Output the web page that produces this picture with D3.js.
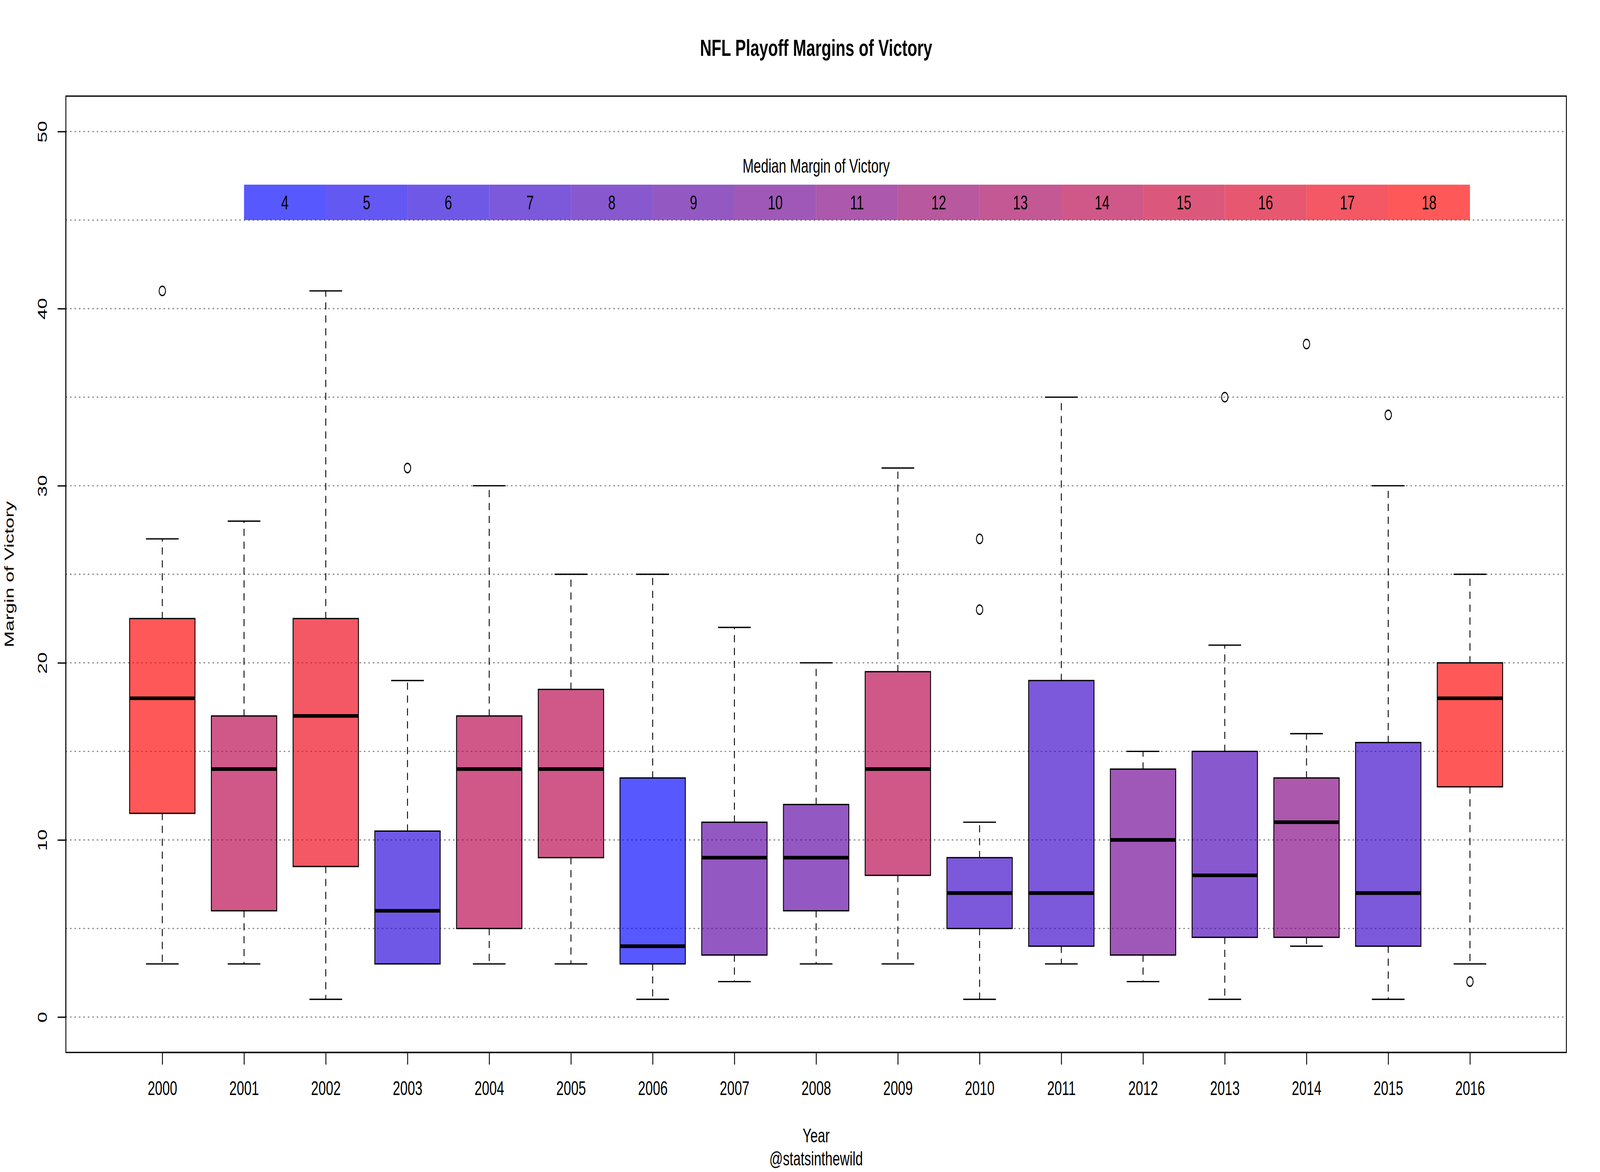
<!DOCTYPE html>
<html>
<head>
<meta charset="utf-8">
<script src="https://cdn.jsdelivr.net/npm/d3@7"></script>
<style>
  html, body { margin: 0; padding: 0; background: #fff; overflow: hidden; }
  svg { display: block; font-family: "Liberation Sans", Arial, Helvetica, sans-serif; }
</style>
</head>
<body>
<svg id="chart" viewBox="0 0 6000 3000" preserveAspectRatio="none"></svg>
<script>
// ---- data ----
const years = ["2000","2001","2002","2003","2004","2005","2006","2007","2008","2009","2010","2011","2012","2013","2014","2015","2016"];
const lowerWhisker = [3, 3, 1, 3, 3, 3, 1, 2, 3, 3, 1, 3, 2, 1, 4, 1, 3];
const lowerHinge   = [11.5, 6, 8.5, 3, 5, 9, 3, 3.5, 6, 8, 5, 4, 3.5, 4.5, 4.5, 4, 13];
const medians      = [18, 14, 17, 6, 14, 14, 4, 9, 9, 14, 7, 7, 10, 8, 11, 7, 18];
const upperHinge   = [22.5, 17, 22.5, 10.5, 17, 18.5, 13.5, 11, 12, 19.5, 9, 19, 14, 15, 13.5, 15.5, 20];
const upperWhisker = [27, 28, 41, 19, 30, 25, 25, 22, 20, 31, 11, 35, 15, 21, 16, 30, 25];
const outliers     = [[41], [], [], [31], [], [], [], [], [], [], [27, 23], [], [], [35], [38], [34], [2]];
const legendLevels = [4, 5, 6, 7, 8, 9, 10, 11, 12, 13, 14, 15, 16, 17, 18];
const yTicks = [0, 10, 20, 30, 40, 50];
const yGrid = [0, 5, 10, 15, 20, 25, 30, 35, 40, 45, 50];

// ---- layout ----
const svg = d3.select("#chart")
  .attr("width", window.innerWidth || 6000).attr("height", window.innerHeight || 3000);
const plotL = 247, plotR = 5874, plotT = 246, plotB = 2694;
const LW = 3.3;
const x = d3.scaleLinear().domain([-0.18, 18.18]).range([plotL, plotR]);
const y = d3.scaleLinear().domain([-2, 52]).range([plotB, plotT]);
const colorRamp = d3.scaleLinear().domain([4, 18]).range([0, 1]);
const colorOf = m => d3.interpolateRgb("blue", "red")(colorRamp(m));
const FILL_OP = 0.655;
const pos = i => i + 1;

// gridlines
svg.append("g").selectAll("line").data(yGrid).join("line")
  .attr("x1", plotL).attr("x2", plotR)
  .attr("y1", d => y(d)).attr("y2", d => y(d))
  .attr("stroke", "#8f8f8f").attr("stroke-width", LW)
  .attr("stroke-dasharray", "3.4,13.3").attr("stroke-linecap", "round");

// legend
const lg = svg.append("g");
lg.selectAll("rect").data(legendLevels).join("rect")
  .attr("x", (d, i) => x(i + 2)).attr("width", (d, i) => x(i + 3) - x(i + 2))
  .attr("y", y(47)).attr("height", y(45) - y(47))
  .attr("fill", d => colorOf(d)).attr("fill-opacity", FILL_OP);
lg.selectAll("text").data(legendLevels).join("text")
  .attr("x", (d, i) => (x(i + 2) + x(i + 3)) / 2).attr("y", y(46))
  .attr("dy", "0.36em").attr("text-anchor", "middle")
  .attr("font-size", 50).text(d => d);
lg.append("text").attr("x", x(9)).attr("y", y(48)).attr("dy", "0.3em")
  .attr("text-anchor", "middle").attr("font-size", 50).text("Median Margin of Victory");

// boxes
const bw = x(0.4) - x(0);
const sw = x(0.2) - x(0);
const boxes = svg.append("g").selectAll("g").data(years).join("g");
boxes.each(function(yr, i) {
  const g = d3.select(this);
  const cx = x(pos(i));
  g.append("line").attr("x1", cx).attr("x2", cx)
    .attr("y1", y(upperHinge[i])).attr("y2", y(upperWhisker[i]))
    .attr("stroke", "#000").attr("stroke-width", LW)
    .attr("stroke-dasharray", "16,17").attr("stroke-linecap", "round");
  g.append("line").attr("x1", cx).attr("x2", cx)
    .attr("y1", y(lowerHinge[i])).attr("y2", y(lowerWhisker[i]))
    .attr("stroke", "#000").attr("stroke-width", LW)
    .attr("stroke-dasharray", "16,17").attr("stroke-linecap", "round");
  [upperWhisker[i], lowerWhisker[i]].forEach(v => {
    g.append("line").attr("x1", cx - sw).attr("x2", cx + sw)
      .attr("y1", y(v)).attr("y2", y(v))
      .attr("stroke", "#000").attr("stroke-width", LW);
  });
  g.append("rect").attr("x", cx - bw).attr("width", 2 * bw)
    .attr("y", y(upperHinge[i])).attr("height", y(lowerHinge[i]) - y(upperHinge[i]))
    .attr("fill", colorOf(medians[i])).attr("fill-opacity", FILL_OP)
    .attr("stroke", "#000").attr("stroke-width", LW);
  g.append("line").attr("x1", cx - bw).attr("x2", cx + bw)
    .attr("y1", y(medians[i])).attr("y2", y(medians[i]))
    .attr("stroke", "#000").attr("stroke-width", 9.4);
  g.selectAll("circle").data(outliers[i]).join("circle")
    .attr("cx", cx).attr("cy", d => y(d)).attr("r", 12)
    .attr("fill", "none").attr("stroke", "#000").attr("stroke-width", LW);
});

// frame
svg.append("rect").attr("x", plotL).attr("y", plotT)
  .attr("width", plotR - plotL).attr("height", plotB - plotT)
  .attr("fill", "none").attr("stroke", "#000").attr("stroke-width", LW);

// x axis
const xAxis = d3.axisBottom(x).tickValues(years.map((d, i) => pos(i)))
  .tickFormat((d, i) => years[i]).tickSize(31).tickPadding(0);
const gx = svg.append("g").attr("transform", `translate(0,${plotB})`).call(xAxis);
gx.select(".domain").attr("d", `M${x(1)},0H${x(17)}`).attr("stroke-width", LW);
gx.selectAll(".tick line").attr("stroke-width", LW);
gx.selectAll(".tick text").attr("font-size", 50).attr("font-family", null)
  .attr("y", 109).attr("dy", null);

// y axis
const yAxis = d3.axisLeft(y).tickValues(yTicks).tickSize(31).tickFormat(d3.format("d"));
const gy = svg.append("g").attr("transform", `translate(${plotL},0)`).call(yAxis);
gy.select(".domain").attr("d", `M0,${y(0)}V${y(50)}`).attr("stroke-width", LW);
gy.selectAll(".tick line").attr("stroke-width", LW);
gy.selectAll(".tick text").attr("font-size", 50).attr("font-family", null)
  .attr("x", null).attr("dy", null).attr("text-anchor", "middle")
  .attr("transform", `translate(${176 - plotL},0) rotate(-90)`);

// titles
svg.append("text").attr("x", (plotL + plotR) / 2).attr("y", 143)
  .attr("text-anchor", "middle").attr("font-size", 60).attr("font-weight", "bold")
  .text("NFL Playoff Margins of Victory");
svg.append("text").attr("x", (plotL + plotR) / 2).attr("y", 2924)
  .attr("text-anchor", "middle").attr("font-size", 50).text("Year");
svg.append("text").attr("x", (plotL + plotR) / 2).attr("y", 2983)
  .attr("text-anchor", "middle").attr("font-size", 50).text("@statsinthewild");
svg.append("text").attr("transform", `translate(52,${(plotT + plotB) / 2}) rotate(-90)`)
  .attr("text-anchor", "middle").attr("font-size", 50).text("Margin of Victory");
</script>
</body>
</html>
